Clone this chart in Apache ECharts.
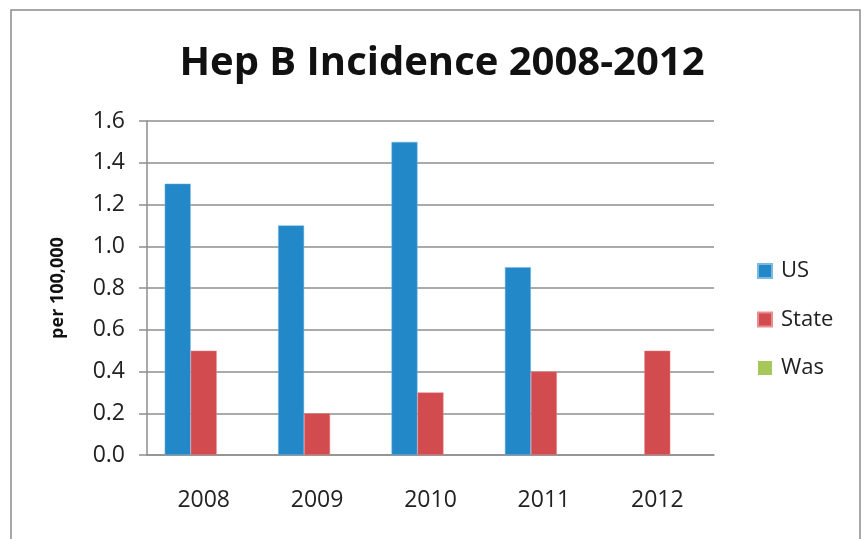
<!DOCTYPE html>
<html><head><meta charset="utf-8">
<script src="https://cdn.jsdelivr.net/npm/echarts@6/dist/echarts.min.js"></script>
<style>html,body{margin:0;padding:0;background:#fff}#c{width:868px;height:539px}</style>
</head><body><div id="c"></div>
<script>
var categories = ['2008','2009','2010','2011','2012'];
var usValues = [1.3, 1.1, 1.5, 0.9, null];
var stateValues = [0.5, 0.2, 0.3, 0.4, 0.5];
var wasValues = [null, null, null, null, null];
var yTicks = {min: 0, max: 1.6, interval: 0.2};

var chart = echarts.init(document.getElementById('c'));
var font = '"Open Sans", "Noto Sans", sans-serif';
var gray = '#8e8e8e';
chart.setOption({
  animation: false,
  title: {
    text: 'Hep B Incidence 2008-2012', left: 437, top: 39, textAlign: 'center',
    textStyle: {fontFamily: font, fontSize: 40, fontWeight: 'bold', color: '#111'}
  },
  graphic: [{type: 'rect', shape: {x: 11, y: 10, width: 849, height: 560},
    style: {fill: 'none', stroke: '#8a8a8a', lineWidth: 1.5}, silent: true}],
  legend: {
    orient: 'vertical', left: 752, top: 255, itemGap: 26.5, itemWidth: 14, itemHeight: 14,
    icon: 'rect',
    textStyle: {fontFamily: font, fontSize: 22, color: '#222', padding: [0,0,0,4]},
    data: ['US','State','Was']
  },
  grid: {left: 147, right: 154, top: 121, bottom: 84},
  xAxis: {
    type: 'category', data: categories,
    axisLine: {lineStyle: {color: gray, width: 1.5}},
    axisTick: {show: false},
    axisLabel: {fontFamily: font, fontSize: 23, color: '#222', margin: 34}
  },
  yAxis: {
    type: 'value', min: yTicks.min, max: yTicks.max, interval: yTicks.interval,
    name: 'per 100,000', nameLocation: 'middle', nameGap: 80, nameRotate: 90,
    nameTextStyle: {fontFamily: font, fontSize: 18, fontWeight: 'bold', color: '#111'},
    axisLine: {show: true, lineStyle: {color: gray, width: 1.5}},
    axisTick: {show: true, length: 8, lineStyle: {color: gray, width: 1.5}},
    splitLine: {lineStyle: {color: gray, width: 1.5}},
    axisLabel: {fontFamily: font, fontSize: 23, color: '#222', margin: 22,
      formatter: function(v){ return v.toFixed(1); }}
  },
  series: [
    {name: 'US', type: 'bar', data: usValues, barWidth: 26, barGap: '0%',
      itemStyle: {color: '#2388c8', borderColor: '#7ab9e0', borderWidth: 0.5}},
    {name: 'State', type: 'bar', data: stateValues, barWidth: 26, barGap: '0%',
      itemStyle: {color: '#d24b4f', borderColor: '#e88d90', borderWidth: 0.5}},
    {name: 'Was', type: 'bar', data: wasValues, barWidth: 26, barGap: '0%',
      itemStyle: {color: '#a6c858'}}
  ]
});
</script></body></html>
